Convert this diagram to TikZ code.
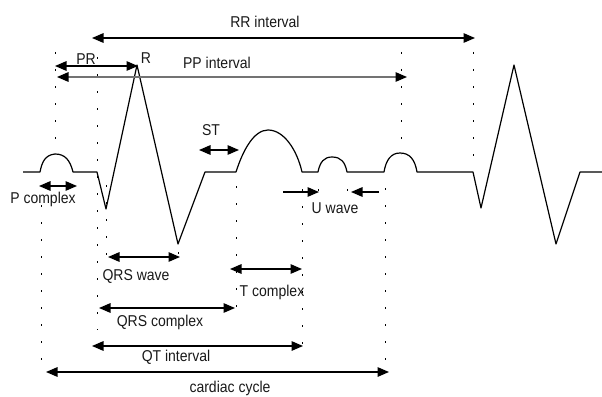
\documentclass[tikz,border=0pt]{standalone}
\usepackage{fontspec}
\setmainfont{Liberation Sans}
\usetikzlibrary{arrows.meta}
\newcommand{\tallt}[1]{\scalebox{1}[1.12]{#1}}
\begin{document}
\begin{tikzpicture}[x=1pt,y=-1pt,
  trace/.style={line width=1.2pt, line join=round},
  dimline/.style={line width=1.5pt, {Triangle[length=11.5pt,width=9.5pt,color=black]}-{Triangle[length=11.5pt,width=9.5pt,color=black]}},
  oneway/.style={line width=1.5pt, -{Triangle[length=11.5pt,width=9.5pt]}},
  dotline/.style={line width=1pt, dash pattern=on 2pt off 15pt},
  lbl/.style={font=\fontsize{14}{16}\selectfont, inner sep=0pt, text=black!90}
]
\useasboundingbox (0,0) rectangle (602,396);

% ECG trace
\draw[trace] (23,172) -- (40,172)
  .. controls (42,162) and (45,155) .. (55,154)
  .. controls (65,154) and (70,160) .. (73,172)
  -- (97,172) -- (106,209) -- (137,65) -- (178,244) -- (205,172) -- (236,172)
  .. controls (243,150) and (254,130) .. (268,130)
  .. controls (284,130) and (297,150) .. (302,172)
  -- (318,172)
  .. controls (320,162) and (324,157) .. (332,157)
  .. controls (341,157) and (345,162) .. (347,172)
  -- (384,172)
  .. controls (386,160) and (391,153) .. (400,153)
  .. controls (410,153) and (415,160) .. (417,172)
  -- (473,172) -- (481,208) -- (514,65) -- (556,244) -- (580,172) -- (602,172);

% dotted guide lines
\draw[dotline] (55,52) -- (55,154);
\draw[dotline] (97,57) -- (97,330);
\draw[dotline] (41,205) -- (41,360);
\draw[dotline] (106,185) -- (106,262);
\draw[dotline] (178,252) -- (178,262);
\draw[dotline] (236,186) -- (236,310);
\draw[dotline] (302,189) -- (302,346);
\draw[dotline] (318,189) -- (318,192);
\draw[dotline] (347,189) -- (347,192);
\draw[dotline] (385,188) -- (385,360);
\draw[dotline] (401,52) -- (401,154);
\draw[dotline] (473,52) -- (473,158);

% arrow end points
\coordinate (rrA) at (92,38);   \coordinate (rrB) at (475,38);
\coordinate (prA) at (55,66);   \coordinate (prB) at (138,66);
\coordinate (ppA) at (57,77);   \coordinate (ppB) at (407,77);
\coordinate (stA) at (199,150); \coordinate (stB) at (239,150);
\coordinate (pcA) at (39,186);  \coordinate (pcB) at (77,186);
\coordinate (uaA) at (283,192); \coordinate (uaB) at (319,192);
\coordinate (ubA) at (379,192); \coordinate (ubB) at (351,192);
\coordinate (qwA) at (108,257); \coordinate (qwB) at (180,257);
\coordinate (tcA) at (230,269); \coordinate (tcB) at (302,269);
\coordinate (qcA) at (99,308);  \coordinate (qcB) at (235,308);
\coordinate (qtA) at (92,346);  \coordinate (qtB) at (303,346);
\coordinate (ccA) at (46,372);  \coordinate (ccB) at (389,372);

\draw[dimline] (rrA) -- (rrB);
\draw[dimline] (prA) -- (prB);
\draw[dimline, draw=black!55] (ppA) -- (ppB);
\draw[dimline] (stA) -- (stB);
\draw[dimline] (pcA) -- (pcB);
\draw[oneway] (uaA) -- (uaB);
\draw[oneway] (ubA) -- (ubB);
\draw[dimline] (qwA) -- (qwB);
\draw[dimline] (tcA) -- (tcB);
\draw[dimline] (qcA) -- (qcB);
\draw[dimline] (qtA) -- (qtB);
\draw[dimline] (ccA) -- (ccB);

% labels
\node[lbl] (lrr) at (265,22) {\tallt{RR interval}};
\node[lbl] (lpr) at (86,59) {\tallt{PR}};
\node[lbl] (lr)  at (146,58) {\tallt{R}};
\node[lbl] (lpp) at (217,63) {\tallt{PP interval}};
\node[lbl] (lst) at (211,130) {\tallt{ST}};
\node[lbl] (lpc) at (43,199) {\tallt{P complex}};
\node[lbl] (luw) at (335,208) {\tallt{U wave}};
\node[lbl] (lqw) at (136,277) {\tallt{QRS wave}};
\node[lbl] (ltc) at (272,292) {\tallt{T complex}};
\node[lbl] (lqc) at (160,322) {\tallt{QRS complex}};
\node[lbl] (lqt) at (176,357) {\tallt{QT interval}};
\node[lbl] (lcc) at (230,388) {\tallt{cardiac cycle}};
\end{tikzpicture}
\end{document}
